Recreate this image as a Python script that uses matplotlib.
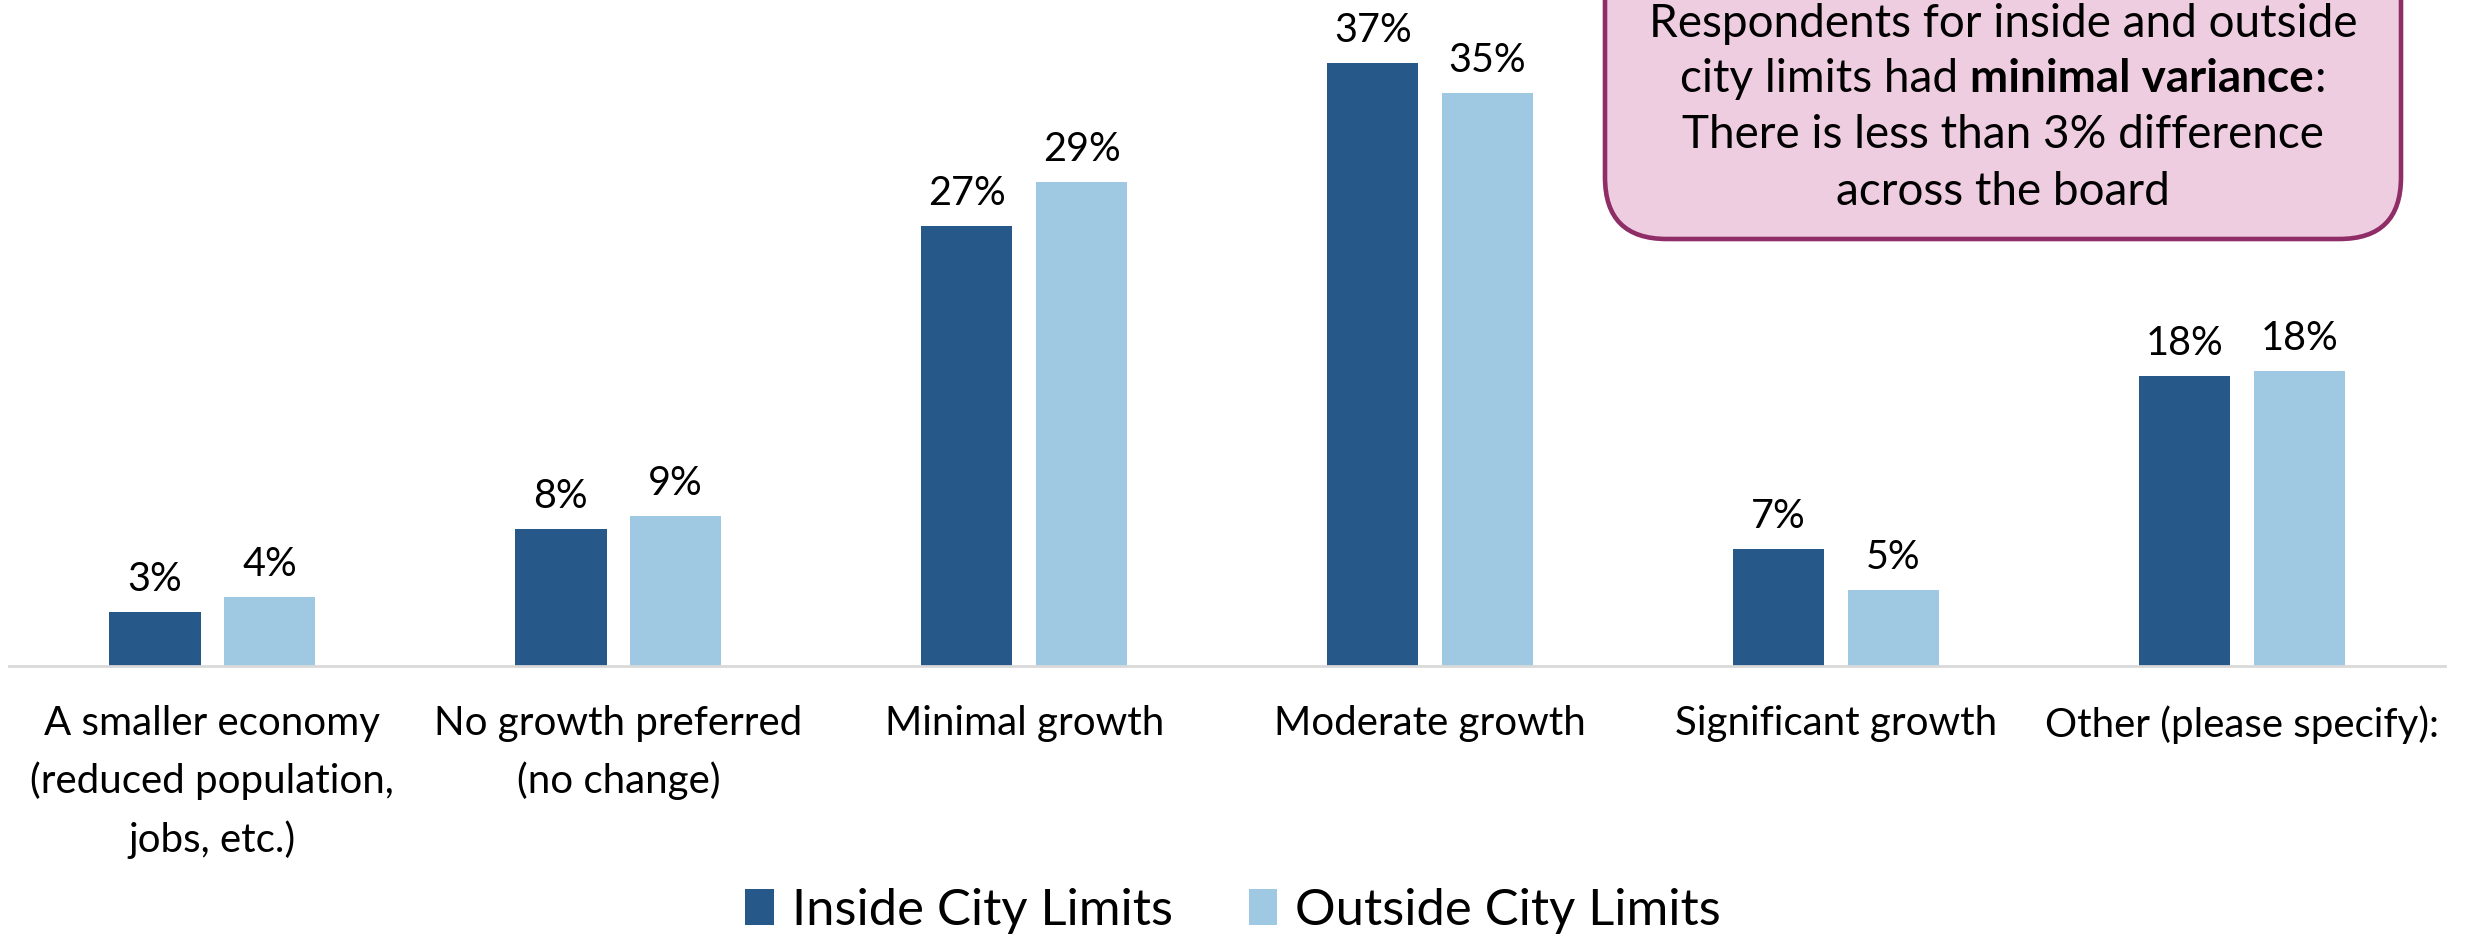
import numpy as np
import matplotlib
matplotlib.use("Agg")
import matplotlib.pyplot as plt
from matplotlib.patches import FancyBboxPatch, Patch
from matplotlib.transforms import blended_transform_factory

plt.rcParams["font.family"] = ["Lato", "DejaVu Sans"]

categories = [
    "A smaller economy\n(reduced population,\njobs, etc.)",
    "No growth preferred\n(no change)",
    "Minimal growth",
    "Moderate growth",
    "Significant growth",
    "Other (please specify):",
]
inside = [3.3, 8.3, 26.7, 36.6, 7.1, 17.6]
outside = [4.2, 9.1, 29.4, 34.8, 4.6, 17.9]
series_names = ["Inside City Limits", "Outside City Limits"]

DARK = "#27588A"
LIGHT = "#9FC9E2"

W, H = 2466, 941
fig = plt.figure(figsize=(W / 100, H / 100), dpi=100)
ax = fig.add_axes([9.4 / W, 1 - 666 / H, (2445 - 9.4) / W, 666 / H])

x = np.arange(len(categories))
bw = 0.225
off = 0.1415
b1 = ax.bar(x - off, inside, bw, color=DARK)
b2 = ax.bar(x + off, outside, bw, color=LIGHT)

for bars, vals in [(b1, inside), (b2, outside)]:
    for rect, v in zip(bars, vals):
        ax.annotate(f"{v:.0f}%", (rect.get_x() + rect.get_width() / 2, v),
                    xytext=(0, 15), textcoords="offset points",
                    ha="center", va="baseline", fontsize=28.5, color="black")

ax.set_xlim(-0.5, len(categories) - 0.5)
ax.set_ylim(0, 666 / 16.47)
for s in ["top", "right", "left"]:
    ax.spines[s].set_visible(False)
ax.spines["bottom"].set_color("#d9d9d9")
ax.spines["bottom"].set_linewidth(2)
ax.set_yticks([])
ax.set_xticks([])

trans = blended_transform_factory(ax.transData, fig.transFigure)
for i, lab in enumerate(categories):
    ax.text(i, 1 - 705 / H, lab, transform=trans, ha="center", va="top",
            fontsize=29, linespacing=1.62, clip_on=False)

handles = [Patch(facecolor=DARK), Patch(facecolor=LIGHT)]
fig.legend(handles, series_names, loc="center", bbox_to_anchor=(0.5, 1 - 911 / H),
           ncol=2, frameon=False, fontsize=36.5, handlelength=0.56, handleheight=0.72,
           handletextpad=0.35, columnspacing=1.5)

# callout box
box = FancyBboxPatch((1605 / W, 1 - 239 / H), (2401 - 1605) / W, 300 / H,
                     boxstyle="round,pad=0,rounding_size=0.025",
                     transform=fig.transFigure, facecolor="#EFCDE0",
                     edgecolor="#8E2D66", linewidth=3.3, mutation_aspect=W / H,
                     clip_on=False)
fig.add_artist(box)

BOXFS = 33
cx = 2003 / W
fig.text(cx, 1 - 23.6 / H, "Respondents for inside and outside", ha="center",
         va="center", fontsize=BOXFS)
fig.text(cx, 1 - 135 / H, "There is less than 3% difference", ha="center",
         va="center", fontsize=BOXFS)
fig.text(cx, 1 - 192 / H, "across the board", ha="center", va="center", fontsize=BOXFS)

# mixed-weight line
y2 = 1 - 78.7 / H
parts = [("city limits had ", "normal"), ("minimal variance", "bold"), (":", "normal")]
renderer = fig.canvas.get_renderer()
texts = [fig.text(0, y2, t, ha="left", va="center", fontsize=BOXFS, fontweight=w)
         for t, w in parts]
widths = [t.get_window_extent(renderer).width / W for t in texts]
xpos = cx - sum(widths) / 2
for t, wd in zip(texts, widths):
    t.set_x(xpos)
    xpos += wd

fig.savefig("out.png", dpi=100, facecolor="white")
